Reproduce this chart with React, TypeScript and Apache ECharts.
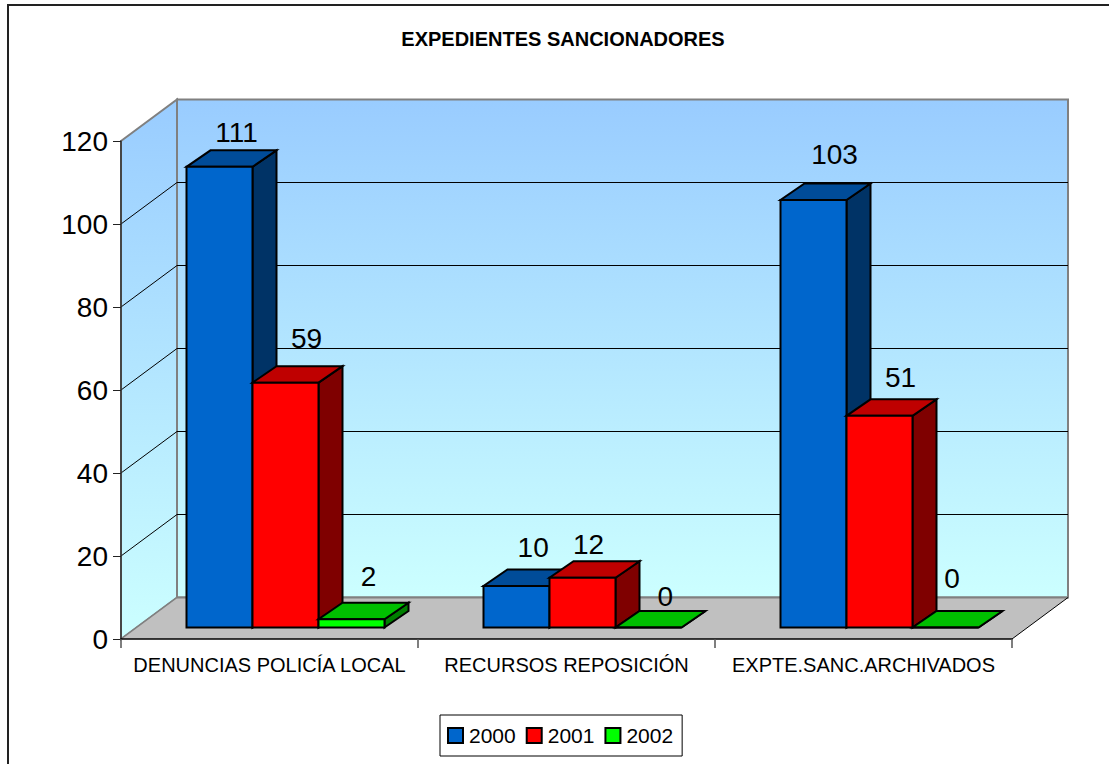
import React, { useEffect, useRef } from "react";
import * as echarts from "echarts";

const title = "EXPEDIENTES SANCIONADORES";
const categories = ["DENUNCIAS POLICÍA LOCAL", "RECURSOS REPOSICIÓN", "EXPTE.SANC.ARCHIVADOS"];
const years = ["2000", "2001", "2002"];
const values2000 = [111, 10, 103];
const values2001 = [59, 12, 51];
const values2002 = [2, 0, 0];
const gridValues = [20, 40, 60, 80, 100];

// layout of the pseudo-3D drawing, in pixels
const FONT = '"Liberation Sans", Arial, sans-serif';
const LABEL_SIZE = 28;
const LABEL_DESCENT = 2.5;
const WALL = { dx: 56, dy: -41.5 };
const BAR = { dx: 24, dy: -16.5, shiftX: 16, shiftY: -11.5, width: 66 };
const faces = [
  { front: "#0066CC", side: "#003366", top: "#004C99" },
  { front: "#FF0000", side: "#7F0000", top: "#BF0000" },
  { front: "#00FF00", side: "#007F00", top: "#00BF00" },
];
// hand placement of each value label, per category then year:
// [x from the bar's left edge, baseline height above the bar's rear top]
const labelNudge = [
  [[50, 6], [54, 16], [50, 15]],
  [[49.7, 11], [39, 5], [49.7, 3]],
  [[54, 18], [54, 10], [39.5, 21]],
];

function poly(points: number[][], fill: any, stroke: string, lineWidth: number) {
  return { type: "polygon", shape: { points }, style: { fill, stroke, lineWidth, lineJoin: "miter" }, silent: true };
}

function barSeries(name: string, values: number[], yi: number) {
  const colors = faces[yi];
  return {
    type: "custom",
    name,
    z: 6 + yi,
    clip: false,
    silent: true,
    itemStyle: { color: colors.front, borderColor: "#000", borderWidth: 1.5 },
    data: values.map((v, i) => [i, v]),
    encode: { x: 0, y: 1 },
    renderItem: (_p: any, api: any) => {
      const cat = api.value(0);
      const val = api.value(1);
      const base = api.coord([cat, 0]);
      const top = api.coord([cat, val]);
      const x0 = base[0] - (BAR.width * years.length) / 2 + BAR.shiftX + BAR.width * yi;
      const x1 = x0 + BAR.width;
      const y0 = base[1] + BAR.shiftY;
      const y1 = top[1] + BAR.shiftY;
      const { dx, dy } = BAR;
      const nudge = labelNudge[cat][yi];
      return {
        type: "group",
        children: [
          poly([[x1, y0], [x1 + dx, y0 + dy], [x1 + dx, y1 + dy], [x1, y1]], colors.side, "#000", 2),
          poly([[x0, y1], [x1, y1], [x1 + dx, y1 + dy], [x0 + dx, y1 + dy]], colors.top, "#000", 2),
          poly([[x0, y0], [x1, y0], [x1, y1], [x0, y1]], colors.front, "#000", 2),
          {
            type: "text",
            z2: 50,
            silent: true,
            x: x0 + nudge[0],
            y: y1 + dy - nudge[1] + LABEL_DESCENT,
            style: { text: String(val), fill: "#000", font: `${LABEL_SIZE}px ${FONT}`, textAlign: "center", textVerticalAlign: "bottom" },
          },
        ],
      };
    },
  };
}

function App() {
  const ref = useRef<HTMLDivElement>(null);
  useEffect(() => {
    document.body.style.margin = "0";
    const chart = echarts.init(ref.current!, undefined, { renderer: "svg" });
    const wallFill = {
      type: "linear", x: 0, y: 0, x2: 0, y2: 1,
      colorStops: [{ offset: 0, color: "#99CCFF" }, { offset: 1, color: "#CCFFFF" }],
    };
    chart.setOption({
      animation: false,
      backgroundColor: "#fff",
      title: {
        text: title,
        left: 558,
        top: 24,
        textAlign: "center",
        textStyle: { fontFamily: FONT, fontSize: 20, fontWeight: "bold", color: "#000" },
      },
      grid: { left: 121, right: 97, top: 141, height: 498 },
      graphic: [
        { type: "rect", z: 0, silent: true, shape: { x: 8, y: 5, width: 1300, height: 1000 }, style: { fill: "none", stroke: "#222", lineWidth: 2 } },
      ],
      legend: {
        data: years,
        left: 440,
        top: 715,
        padding: [10, 9, 10, 7],
        itemWidth: 15,
        itemHeight: 15,
        itemGap: 10,
        borderColor: "#000",
        borderWidth: 1,
        backgroundColor: "#fff",
        selectedMode: false,
        icon: "rect",
        textStyle: { fontFamily: FONT, fontSize: 21, color: "#000", padding: [0, 0, 0, 1] },
      },
      xAxis: {
        type: "category",
        data: categories,
        z: 5,
        axisLine: { lineStyle: { color: "#000", width: 1.5 } },
        axisTick: { show: true, length: 9, lineStyle: { color: "#555", width: 1.5 } },
        axisLabel: { fontFamily: FONT, fontSize: 20, color: "#000", margin: 16, interval: 0 },
      },
      yAxis: {
        type: "value",
        min: 0,
        max: 120,
        interval: 20,
        z: 5,
        splitLine: { show: false },
        axisLine: { show: true, lineStyle: { color: "#333", width: 1.5 } },
        axisTick: { show: true, length: 8, lineStyle: { color: "#222", width: 1 } },
        axisLabel: { fontFamily: FONT, fontSize: LABEL_SIZE, color: "#000", margin: 13 },
      },
      series: [
        {
          type: "custom",
          z: 1,
          clip: false,
          silent: true,
          data: [[0, 120]],
          encode: { x: 0, y: 1 },
          renderItem: (p: any) => {
            const { x, y, width, height } = p.coordSys;
            const r = x + width;
            const b = y + height;
            const { dx, dy } = WALL;
            return {
              type: "group",
              children: [
                poly([[x, y], [x + dx, y + dy], [x + dx, b + dy], [x, b]], wallFill, "#808080", 2),
                poly([[x + dx, y + dy], [r + dx, y + dy], [r + dx, b + dy], [x + dx, b + dy]], wallFill, "#808080", 2),
                poly([[x, b], [r, b], [r + dx, b + dy], [x + dx, b + dy]], "#C0C0C0", "none", 0),
                { type: "line", silent: true, shape: { x1: x + dx, y1: b + dy, x2: r + dx, y2: b + dy }, style: { stroke: "#808080", lineWidth: 2 } },
                { type: "line", silent: true, shape: { x1: x, y1: b, x2: x + dx, y2: b + dy }, style: { stroke: "#808080", lineWidth: 1.5 } },
                { type: "line", silent: true, shape: { x1: r, y1: b, x2: r + dx, y2: b + dy }, style: { stroke: "#000", lineWidth: 1 } },
              ],
            };
          },
        },
        {
          type: "custom",
          z: 2,
          clip: false,
          silent: true,
          data: gridValues.map((v) => [0, v]),
          encode: { x: 0, y: 1 },
          renderItem: (p: any, api: any) => {
            const { x, width } = p.coordSys;
            const yy = api.coord([0, api.value(1)])[1];
            const { dx, dy } = WALL;
            return {
              type: "polyline",
              silent: true,
              shape: { points: [[x, yy], [x + dx, yy + dy], [x + width + dx, yy + dy]] },
              style: { fill: "none", stroke: "#000", lineWidth: 1 },
            };
          },
        },
        barSeries(years[0], values2000, 0),
        barSeries(years[1], values2001, 1),
        barSeries(years[2], values2002, 2),
      ],
    });
    return () => chart.dispose();
  }, []);
  return <div ref={ref} style={{ width: 1109, height: 764 }} />;
}

export default App;
